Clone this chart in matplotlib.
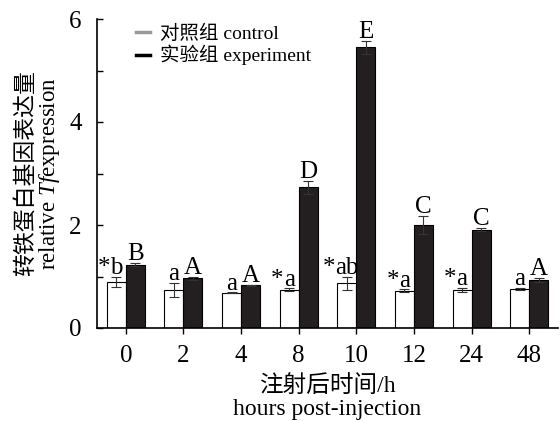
import matplotlib
matplotlib.use("Agg")
import matplotlib.pyplot as plt
from matplotlib.lines import Line2D
import numpy as np

plt.rcParams['font.family'] = ['Liberation Serif', 'Noto Sans CJK SC', 'DejaVu Sans']
plt.rcParams['mathtext.fontset'] = 'custom'
plt.rcParams['mathtext.it'] = 'Liberation Serif:italic'
plt.rcParams['mathtext.rm'] = 'Liberation Serif'

categories = ['0', '2', '4', '8', '10', '12', '24', '48']
control = [0.89, 0.74, 0.68, 0.74, 0.87, 0.72, 0.74, 0.76]
control_err = [0.10, 0.14, 0.01, 0.03, 0.13, 0.03, 0.04, 0.02]
experiment = [1.23, 0.97, 0.83, 2.73, 5.45, 2.00, 1.91, 0.93]
experiment_err = [0.03, 0.03, 0.01, 0.12, 0.12, 0.17, 0.03, 0.04]
control_letters = ['b', 'a', 'a', 'a', 'ab', 'a', 'a', 'a']
control_star = [True, False, False, True, True, True, True, False]
experiment_letters = ['B', 'A', 'A', 'D', 'E', 'C', 'C', 'A']

fig = plt.figure(figsize=(5.6, 4.21), dpi=100)
ax = fig.add_axes([97/560, 1-328/421, (558-97)/560, (328-19)/421])

x = np.arange(len(categories))
w = 0.33
ax.bar(x - w/2, control, w, color='white', edgecolor='black', linewidth=0.8, zorder=2)
ax.bar(x + w/2, experiment, w, color='#231f20', edgecolor='black', linewidth=0.8, zorder=2)
ax.errorbar(x - w/2, control, yerr=control_err, fmt='none', ecolor='#333333',
            elinewidth=0.8, capsize=3.5, capthick=0.8, zorder=3)
ax.errorbar(x + w/2, experiment, yerr=experiment_err, fmt='none', ecolor='#333333',
            elinewidth=0.8, capsize=3.5, capthick=0.8, zorder=3)

fs_lab = 18
for i in range(len(categories)):
    t = ax.annotate(control_letters[i], xy=(x[i] - w/2, control[i] + control_err[i]),
                    xytext=(0, 2), textcoords='offset points', ha='center', va='baseline',
                    fontsize=fs_lab)
    if control_star[i]:
        ax.annotate('*', xy=(0, 0), xycoords=t, ha='right', va='bottom', fontsize=fs_lab)
    ax.annotate(experiment_letters[i], xy=(x[i] + w/2, experiment[i] + experiment_err[i]),
                xytext=(0, 2), textcoords='offset points', ha='center', va='baseline',
                fontsize=fs_lab)

ax.set_xlim(-0.5, len(categories) - 0.5)
ax.set_ylim(0, 6)
ax.set_xticks(x)
ax.set_xticklabels(categories)
ax.set_yticks([0, 2, 4, 6])
ax.set_yticks([1, 3, 5], minor=True)
ax.tick_params(axis='y', which='both', direction='in', length=4, width=1, pad=11, labelsize=18)
ax.tick_params(axis='x', direction='out', length=4, width=1, pad=8, labelsize=18)
for s in ['top', 'right']:
    ax.spines[s].set_visible(False)
for s in ['left', 'bottom']:
    ax.spines[s].set_linewidth(1.2)

ax.set_xlabel('注射后时间/h\nhours post-injection', fontsize=17, linespacing=1.1, labelpad=6)
ax.set_ylabel('转铁蛋白基因表达量\nrelative $\\it{Tf}$expression', fontsize=16.5, linespacing=1.05, labelpad=5)

handles = [Line2D([], [], color='#999999', linewidth=2.5),
           Line2D([], [], color='black', linewidth=2.5)]
fig.legend(handles, ['对照组 control', '实验组 experiment'], loc='upper left',
           bbox_to_anchor=(126/560, 1-15/421), frameon=False, fontsize=14,
           handlelength=0.75, handletextpad=0.5, borderpad=0, labelspacing=0.1)

fig.savefig('out.png', dpi=100)
